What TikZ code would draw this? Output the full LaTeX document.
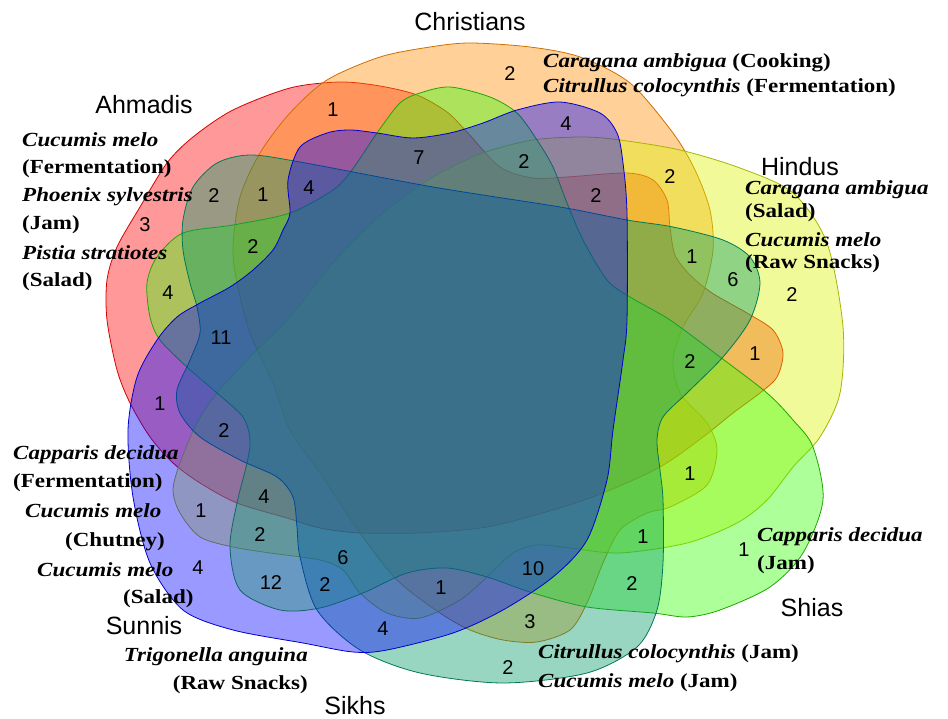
\documentclass[tikz,border=0pt]{standalone}
\usepackage{fontspec}
\setmainfont{Liberation Serif}[FakeStretch=1.15]
\newfontfamily\grpfont{Liberation Sans}
\definecolor{ahmRed}{HTML}{FF0000}
\definecolor{chrOrange}{HTML}{FF8C00}
\definecolor{hinYellow}{HTML}{DDF200}
\definecolor{shiGreen}{HTML}{33FF00}
\definecolor{sikTeal}{HTML}{009966}
\definecolor{sunBlue}{HTML}{0000FF}
\begin{document}
\begin{tikzpicture}[x=1pt, y=-1pt,
	venn/.style={line width=0.8pt, fill opacity=0.4},
	num/.style={font=\grpfont\fontsize{20}{21}\selectfont, inner sep=0pt},
	grp/.style={font=\grpfont\fontsize{25}{26}\selectfont, inner sep=0pt},
	spp/.style={font=\bfseries\fontsize{20}{22}\selectfont, inner sep=0pt, anchor=west}]
	\useasboundingbox (0,0) rectangle (948,719);
	\draw [venn, draw=ahmRed!85!black, fill=ahmRed] plot [smooth cycle] coordinates {
		(107,280) (117,247) (140,207) (167,163) (193,137) (233,110) (290,88) (340,82) (380,86)
		(417,95) (447,112) (467,132) (500,167) (533,178) (567,177) (627,173) (653,180) (667,200)
		(670,227) (675,255) (690,275) (712,293) (747,313) (773,330) (783,353) (777,377) (760,393)
		(733,413) (703,437) (660,467) (603,493) (553,510) (487,527) (420,533) (360,533) (320,528)
		(287,518) (237,503) (200,483) (173,463) (150,437) (130,403) (117,370) (107,320)};
	\draw [venn, draw=chrOrange!80!black, fill=chrOrange] plot [smooth cycle] coordinates {
		(380,57) (430,47) (470,43) (530,47) (580,57) (630,83) (673,133) (695,170) (710,210)
		(713,250) (703,293) (683,327) (673,360) (680,393) (707,423) (717,450) (707,485) (670,507)
		(647,513) (620,530) (603,563) (587,603) (570,630) (537,642) (503,640) (470,630) (440,613)
		(397,580) (360,533) (320,473) (290,430) (273,383) (250,333) (237,283) (233,247) (240,197)
		(260,153) (290,113) (327,80)};
	\draw [venn, draw=hinYellow!75!black, fill=hinYellow] plot [smooth cycle] coordinates {
		(740,168) (793,193) (827,243) (843,327) (840,393) (820,437) (793,467) (767,500) (737,523)
		(687,543) (620,553) (570,548) (537,545) (513,553) (487,577) (460,600) (420,618) (387,613)
		(360,593) (343,570) (320,560) (270,553) (233,547) (200,537) (180,513) (173,490) (180,463)
		(197,423) (217,393) (250,357) (290,317) (333,263) (383,213) (433,177) (483,153) (533,140)
		(583,137) (620,140) (680,150)};
	\draw [venn, draw=shiGreen!65!black, fill=shiGreen] plot [smooth cycle] coordinates {
		(243,417) (250,440) (247,463) (237,503) (230,547) (240,590) (280,610) (320,608) (363,593)
		(407,573) (447,568) (487,577) (533,593) (587,607) (653,613) (687,617) (720,610) (770,587)
		(803,553) (823,500) (813,447) (793,420) (767,393) (720,357) (670,320) (630,297) (607,280)
		(583,240) (567,203) (553,167) (537,140) (517,113) (490,97) (450,87) (420,93) (400,103)
		(377,133) (352,170) (333,190) (290,213) (233,225) (183,233) (157,257) (147,283) (150,317)
		(160,340) (187,367) (217,393)};
	\draw [venn, draw=sikTeal!80!black, fill=sikTeal] plot [smooth cycle] coordinates {
		(560,207) (627,220) (673,227) (723,240) (750,257) (760,283) (750,320) (723,357) (687,393)
		(663,417) (657,440) (660,470) (663,500) (663,563) (657,610) (637,647) (587,673) (503,683)
		(420,673) (360,650) (317,610) (300,557) (297,527) (293,497) (277,477) (240,460) (200,437)
		(180,413) (177,390) (190,360) (200,333) (197,307) (190,283) (183,250) (183,220) (193,187)
		(217,163) (250,155) (300,162) (433,187)};
	\draw [venn, draw=sunBlue!80!black, fill=sunBlue] plot [smooth cycle] coordinates {
		(290,213) (288,180) (300,147) (327,133) (350,130) (377,133) (413,138) (450,133) (483,123)
		(517,110) (560,102) (600,113) (617,133) (623,163) (627,213) (627,320) (623,360) (613,430)
		(607,480) (587,540) (553,577) (503,610) (453,633) (387,650) (353,652) (303,643) (233,630)
		(183,610) (150,563) (133,497) (128,430) (137,377) (157,340) (177,317) (200,303) (230,287)
		(253,270) (273,250) (283,230)};
	\foreach \x/\y/\n [count=\i] in {510/74/2, 333/110/1, 566/124/4, 419/158/7, 524/162/2,
		670/177/2, 596/196/2, 214/196/2, 145/225/3, 263/195/1, 309/188/4, 253/247/2, 168/293/4,
		221/338/11, 692/257/1, 733/280/6, 792/295/2, 690/362/2, 755/354/1, 160/404/1, 224/431/2,
		690/474/1, 264/497/4, 201/511/1, 260/535/2, 643/537/1, 744/550/1, 343/558/6, 198/568/4,
		271/583/12, 325/585/2, 533/569/10, 632/584/2, 441/588/1, 530/622/3, 383/629/4, 508/668/2}
	\node [num] (n\i) at (\x,\y) {\n};
	\node [grp] (christians) at (470,22) {Christians};
	\node [grp] (ahmadis) at (144,105) {Ahmadis};
	\node [grp] (hindus) at (800,167) {Hindus};
	\node [grp] (shias) at (812,608) {Shias};
	\node [grp] (sunnis) at (144,626) {Sunnis};
	\node [grp] (sikhs) at (355,706) {Sikhs};
	\node [spp] (ahmA) at (22,140) {\textit{Cucumis melo}};
	\node [spp] (ahmB) at (22,169) {(Fermentation)};
	\node [spp] (ahmC) at (22,197) {\textit{Phoenix sylvestris}};
	\node [spp] (ahmD) at (22,225) {(Jam)};
	\node [spp] (ahmE) at (22,253) {\textit{Pistia stratiotes}};
	\node [spp] (ahmF) at (22,282) {(Salad)};
	\node [spp] (chrA) at (543,63) {\textit{Caragana ambigua} (Cooking)};
	\node [spp] (chrB) at (543,88) {\textit{Citrullus colocynthis} (Fermentation)};
	\node [spp] (hinA) at (745,190) {\textit{Caragana ambigua}};
	\node [spp] (hinB) at (745,213) {(Salad)};
	\node [spp] (hinC) at (745,240) {\textit{Cucumis melo}};
	\node [spp] (hinD) at (745,264) {(Raw Snacks)};
	\node [spp] (sunA) at (13,455) {\textit{Capparis decidua}};
	\node [spp] (sunB) at (13,483) {(Fermentation)};
	\node [spp] (sunC) at (25,511) {\textit{Cucumis melo}};
	\node [spp] (sunD) at (65,542) {(Chutney)};
	\node [spp] (sunE) at (37,570) {\textit{Cucumis melo}};
	\node [spp] (sunF) at (123,599) {(Salad)};
	\node [spp, anchor=east] (sunG) at (308,657) {\textit{Trigonella anguina}};
	\node [spp, anchor=east] (sunH) at (308,685) {(Raw Snacks)};
	\node [spp] (shiA) at (757,537) {\textit{Capparis decidua}};
	\node [spp] (shiB) at (757,565) {(Jam)};
	\node [spp] (sikA) at (538,654) {\textit{Citrullus colocynthis} (Jam)};
	\node [spp] (sikB) at (538,683) {\textit{Cucumis melo} (Jam)};
\end{tikzpicture}
\end{document}
